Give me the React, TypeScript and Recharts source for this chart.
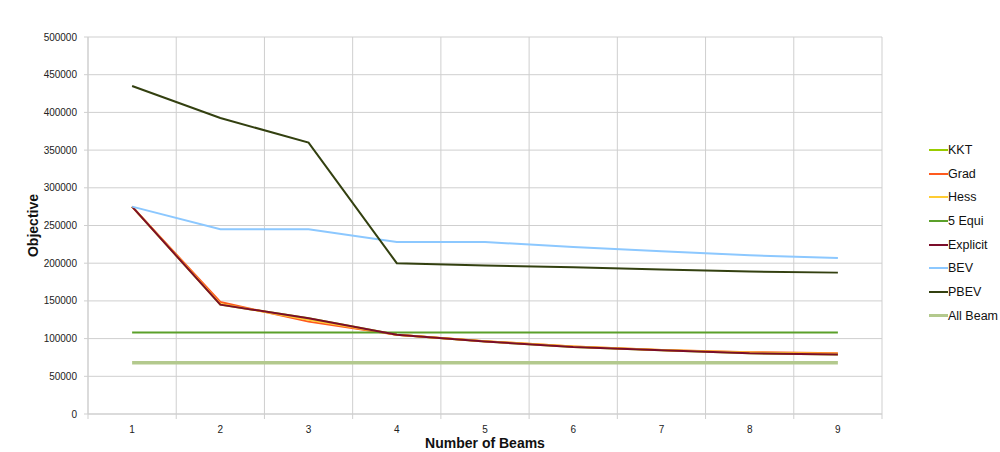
import React from 'react';
import { LineChart, Line, XAxis, YAxis, CartesianGrid, Legend } from 'recharts';

const beams = [1, 2, 3, 4, 5, 6, 7, 8, 9];
const kkt = [275000, 145000, 127000, 105000, 96000, 89000, 84700, 80500, 79000];
const grad = [275000, 148500, 122500, 105000, 96500, 89500, 85000, 82000, 80500];
const hess = [275000, 146000, 125000, 105000, 96500, 89500, 85000, 81500, 80000];
const fiveEqui = [108000, 108000, 108000, 108000, 108000, 108000, 108000, 108000, 108000];
const explicit = [275000, 145000, 127000, 105000, 96000, 89000, 84700, 80500, 79000];
const bev = [275000, 245000, 245000, 228000, 228000, 221500, 216000, 210500, 207000];
const pbev = [435000, 392500, 360000, 200000, 197000, 194500, 191500, 189000, 187500];
const allBeam = [68000, 68000, 68000, 68000, 68000, 68000, 68000, 68000, 68000];

const yTicks = [0, 50000, 100000, 150000, 200000, 250000, 300000, 350000, 400000, 450000, 500000];
const xTicks = [0.5, 1, 1.5, 2, 2.5, 3, 3.5, 4, 4.5, 5, 5.5, 6, 6.5, 7, 7.5, 8, 8.5, 9, 9.5];
const boundaries = [0.5, 1.5, 2.5, 3.5, 4.5, 5.5, 6.5, 7.5, 8.5, 9.5];
const X_DOMAIN: [number, number] = [0.5, 9.5];

const series = [
  { key: 'kkt', name: 'KKT', color: '#99cc00', width: 2 },
  { key: 'grad', name: 'Grad', color: '#ff5a1e', width: 2 },
  { key: 'hess', name: 'Hess', color: '#ffcc33', width: 2 },
  { key: 'fiveEqui', name: '5 Equi', color: '#5ba02a', width: 2 },
  { key: 'explicit', name: 'Explicit', color: '#7b0d2a', width: 2 },
  { key: 'bev', name: 'BEV', color: '#8cc8ff', width: 2 },
  { key: 'pbev', name: 'PBEV', color: '#334010', width: 2 },
  { key: 'allBeam', name: 'All Beam', color: '#b3c98d', width: 3.5 },
];

const data = beams.map((b, i) => ({
  beam: b,
  kkt: kkt[i],
  grad: grad[i],
  hess: hess[i],
  fiveEqui: fiveEqui[i],
  explicit: explicit[i],
  bev: bev[i],
  pbev: pbev[i],
  allBeam: allBeam[i],
}));

const FONT = '"Liberation Sans", Arial, sans-serif';
const GRID = '#cfcfcf';

const XTick = (props: any) => {
  const { x, y, payload } = props;
  const v = payload.value;
  if (Number.isInteger(v)) {
    return (
      <text x={x} y={y + 19} textAnchor="middle" fontSize={10} fontFamily={FONT} fill="#222">
        {v}
      </text>
    );
  }
  return <line x1={x} x2={x} y1={y} y2={y + 5} stroke={GRID} strokeWidth={1} />;
};

const LegendContent = () => (
  <div style={{ fontFamily: FONT, fontSize: 12.5, color: '#111' }}>
    {series.map((s) => (
      <div key={s.key} style={{ display: 'flex', alignItems: 'center', height: 23.7 }}>
        <div style={{ width: 19, height: s.width >= 3 ? 3 : 2, background: s.color }} />
        <span style={{ marginLeft: 0 }}>{s.name}</span>
      </div>
    ))}
  </div>
);

const gridGen = ({ xAxis, offset }: any) =>
  boundaries.map((b) => {
    const sc = xAxis && xAxis.scale;
    if (typeof sc === 'function') return sc(b);
    if (sc && typeof sc.map === 'function') return sc.map(b);
    return offset.left + (offset.width * (b - X_DOMAIN[0])) / (X_DOMAIN[1] - X_DOMAIN[0]);
  });

export default function App() {
  return (
    <div style={{ position: 'absolute', left: 0, top: 0, width: 1000, height: 452, background: '#fff' }}>
      <LineChart width={1000} height={452} data={data} margin={{ top: 37, right: 118, bottom: 0, left: 0 }}>
        <CartesianGrid stroke={GRID} strokeWidth={1} verticalCoordinatesGenerator={gridGen} />
        <XAxis
          dataKey="beam"
          type="number"
          domain={X_DOMAIN}
          ticks={xTicks}
          interval={0}
          tickLine={false}
          tickSize={0}
          tickMargin={0}
          height={38}
          axisLine={{ stroke: GRID }}
          tick={<XTick />}
          label={{
            content: ({ viewBox }: any) => (
              <text
                x={viewBox.x + viewBox.width / 2}
                y={viewBox.y + 34}
                textAnchor="middle"
                fontSize={14}
                fontWeight="bold"
                fontFamily={FONT}
                fill="#111"
              >
                Number of Beams
              </text>
            ),
          }}
        />
        <YAxis
          type="number"
          domain={[0, 500000]}
          ticks={yTicks}
          interval={0}
          width={88}
          tickSize={4}
          tickMargin={7}
          axisLine={{ stroke: GRID }}
          tickLine={{ stroke: GRID }}
          tick={{ fontSize: 10, fontFamily: FONT, fill: '#222' }}
          label={{
            content: ({ viewBox }: any) => {
              const cx = 33;
              const cy = viewBox.y + viewBox.height / 2;
              return (
                <text
                  x={cx}
                  y={cy}
                  transform={`rotate(-90, ${cx}, ${cy})`}
                  textAnchor="middle"
                  dominantBaseline="central"
                  fontSize={14}
                  fontWeight="bold"
                  fontFamily={FONT}
                  fill="#111"
                >
                  Objective
                </text>
              );
            },
          }}
        />
        <Legend
          layout="vertical"
          align="center"
          verticalAlign="middle"
          content={<LegendContent />}
          wrapperStyle={{ left: 929, top: 138, width: 80 }}
        />
        {series.map((s) => (
          <Line
            key={s.key}
            dataKey={s.key}
            name={s.name}
            stroke={s.color}
            strokeWidth={s.width}
            dot={false}
            type="linear"
            isAnimationActive={false}
          />
        ))}
      </LineChart>
    </div>
  );
}
